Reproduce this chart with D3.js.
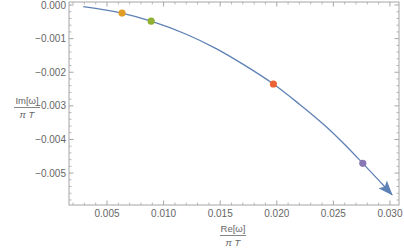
<!DOCTYPE html>
<html>
<head>
<meta charset="utf-8">
<script src="https://cdn.jsdelivr.net/npm/d3@7"></script>
<style>
  body { margin: 0; background: white; }
  text { font-family: "Liberation Sans", Arial, sans-serif; }
</style>
</head>
<body>
<svg id="chart" width="404" height="249"></svg>
<script>
// curve: Re[w]/(pi T) vs Im[w]/(pi T)
var reVals = [0.0029, 0.0063, 0.0089, 0.0120, 0.0146, 0.0170, 0.0197, 0.0220, 0.0242, 0.0260, 0.0276, 0.0290, 0.0302];
var imVals = [-0.00005, -0.00024, -0.00048, -0.00087, -0.00129, -0.00176, -0.00235, -0.00295, -0.00357, -0.00415, -0.00471, -0.00521, -0.00565];

// marked points
var markRe = [0.00633, 0.0089, 0.0197, 0.0276];
var markIm = [-0.00024, -0.00048, -0.00235, -0.00471];
var markColors = ["#E19C24", "#8FB032", "#EB6235", "#8778B3"];

var xTicks = [0.005, 0.010, 0.015, 0.020, 0.025, 0.030];
var yTicks = [0.000, -0.001, -0.002, -0.003, -0.004, -0.005];

var svg = d3.select('#chart');
var pLeft = 69, pRight = 399, pTop = 2, pBottom = 205;

var x = d3.scaleLinear().domain([0.00164, 0.0308]).range([pLeft, pRight]);
var y = d3.scaleLinear().domain([0.00009, -0.00595]).range([pTop, pBottom]);

var frameColor = "#a6a6a6";
var labelColor = "#666";

// minor ticks
var xMinor = d3.range(0.002, 0.0309, 0.001).filter(v => xTicks.every(t => Math.abs(t - v) > 1e-6));
var yMinor = d3.range(0, -0.0060, -0.0002).filter(v => yTicks.every(t => Math.abs(t - v) > 1e-6));

var g = svg.append('g');

// major/minor ticks on all four sides, pointing inward
xTicks.forEach(function(v) {
    g.append('line').attr('x1', x(v)).attr('x2', x(v)).attr('y1', pBottom).attr('y2', pBottom - 4.5)
        .attr('stroke', frameColor);
    g.append('line').attr('x1', x(v)).attr('x2', x(v)).attr('y1', pTop).attr('y2', pTop + 4.5)
        .attr('stroke', frameColor);
});
xMinor.forEach(function(v) {
    g.append('line').attr('x1', x(v)).attr('x2', x(v)).attr('y1', pBottom).attr('y2', pBottom - 2.5)
        .attr('stroke', frameColor).attr('stroke-width', 0.8);
    g.append('line').attr('x1', x(v)).attr('x2', x(v)).attr('y1', pTop).attr('y2', pTop + 2.5)
        .attr('stroke', frameColor).attr('stroke-width', 0.8);
});
yTicks.forEach(function(v) {
    g.append('line').attr('y1', y(v)).attr('y2', y(v)).attr('x1', pLeft).attr('x2', pLeft + 4.5)
        .attr('stroke', frameColor);
    g.append('line').attr('y1', y(v)).attr('y2', y(v)).attr('x1', pRight).attr('x2', pRight - 4.5)
        .attr('stroke', frameColor);
});
yMinor.forEach(function(v) {
    g.append('line').attr('y1', y(v)).attr('y2', y(v)).attr('x1', pLeft).attr('x2', pLeft + 2.5)
        .attr('stroke', frameColor).attr('stroke-width', 0.8);
    g.append('line').attr('y1', y(v)).attr('y2', y(v)).attr('x1', pRight).attr('x2', pRight - 2.5)
        .attr('stroke', frameColor).attr('stroke-width', 0.8);
});

// frame
g.append('rect').attr('x', pLeft).attr('y', pTop).attr('width', pRight - pLeft).attr('height', pBottom - pTop)
    .attr('fill', 'none').attr('stroke', frameColor).attr('stroke-width', 1);

// tick labels
g.selectAll('text.xt').data(xTicks).enter().append('text')
    .attr('class', 'xt')
    .attr('x', d => x(d)).attr('y', pBottom + 12)
    .attr('text-anchor', 'middle').attr('font-size', 10).attr('fill', labelColor)
    .text(d => d3.format('.3f')(d));

g.selectAll('text.yt').data(yTicks).enter().append('text')
    .attr('class', 'yt')
    .attr('x', pLeft - 3).attr('y', d => y(d) + 3.5)
    .attr('text-anchor', 'end').attr('font-size', 10).attr('fill', labelColor)
    .text(d => d === 0 ? "0.000" : "\u2212" + d3.format('.3f')(-d));

// axis labels as fractions
function fraction(cx, cy, num) {
    var f = svg.append('g').attr('transform', 'translate(' + cx + ',' + cy + ')');
    f.append('text').attr('y', -3.5).attr('text-anchor', 'middle').attr('font-size', 9.5)
        .attr('fill', labelColor).text(num);
    f.append('line').attr('x1', -13).attr('x2', 13).attr('y1', 0.5).attr('y2', 0.5)
        .attr('stroke', labelColor).attr('stroke-width', 0.8);
    f.append('text').attr('y', 10.5).attr('text-anchor', 'middle').attr('font-size', 9.5)
        .attr('font-style', 'italic').attr('fill', labelColor).text("\u03C0 T");
}
fraction(27, 107, "Im[\u03C9]");
fraction(233, 235, "Re[\u03C9]");

// curve
var pts = reVals.map((v, i) => [x(v), y(imVals[i])]);
var line = d3.line().curve(d3.curveCatmullRom);
var lineColor = "#5E81B5";

svg.append('defs').append('marker')
    .attr('id', 'arrow').attr('viewBox', '0 0 10 10')
    .attr('refX', 9.5).attr('refY', 5)
    .attr('markerWidth', 15).attr('markerHeight', 15)
    .attr('markerUnits', 'userSpaceOnUse')
    .attr('orient', 'auto')
    .append('path').attr('d', 'M0,1.2 L10,5 L0,8.8 L2.2,5 Z').attr('fill', lineColor);

svg.append('path').attr('d', line(pts))
    .attr('fill', 'none').attr('stroke', lineColor).attr('stroke-width', 1.3)
    .attr('marker-end', 'url(#arrow)');

// markers
svg.selectAll('circle').data(markRe).enter().append('circle')
    .attr('cx', d => x(d)).attr('cy', (d, i) => y(markIm[i]))
    .attr('r', 3.6).attr('fill', (d, i) => markColors[i]);
</script>
</body>
</html>
